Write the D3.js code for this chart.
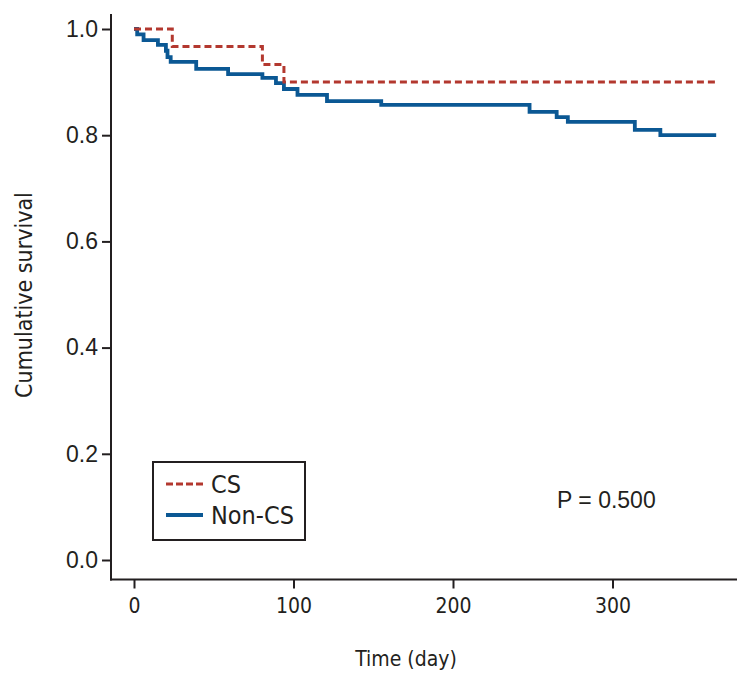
<!DOCTYPE html>
<html><head><meta charset="utf-8">
<script src="https://cdn.jsdelivr.net/npm/d3@7"></script>
<style>
html,body{margin:0;padding:0;background:#fff;}
svg{display:block;}
</style></head>
<body>
<svg id="chart" width="750" height="682"></svg>
<script>
// ---- data ----
const csTimes  = [0, 24, 80.5, 94, 365];
const csSurv   = [1.0, 0.967, 0.933, 0.900, 0.900];
const nonTimes = [0, 2, 6, 15, 20, 21, 23, 39, 59, 80.5, 89, 94, 102.5, 121, 155, 248, 265, 272, 314, 330, 365];
const nonSurv  = [1.0, 0.990, 0.979, 0.970, 0.959, 0.947, 0.938, 0.925, 0.915, 0.908, 0.898, 0.887, 0.876, 0.864, 0.857, 0.844, 0.834, 0.825, 0.810, 0.800, 0.800];
const xTicks = [0, 100, 200, 300];
const yTicks = [0, 0.2, 0.4, 0.6, 0.8, 1.0];
const seriesNames = ["CS", "Non-CS"];
const pText = "P = 0.500";

const svg = d3.select("#chart");
const x = d3.scaleLinear().domain([0, 300]).range([134, 612.5]);
const y = d3.scaleLinear().domain([0, 1]).range([560, 29]);
const axisColor = "#231f20";
const red = "#b3382f", blue = "#0b5894";
const narrow = "'Liberation Sans Narrow', 'DejaVu Sans Condensed', sans-serif";
const wide = "'Liberation Sans', Arial, sans-serif";

// axes lines
const axLeft = 111, axBottom = 579.5, axRight = 737, axTop = 14;
svg.append("line").attr("x1", axLeft).attr("x2", axLeft).attr("y1", axTop).attr("y2", axBottom + 1)
  .attr("stroke", axisColor).attr("stroke-width", 2);
svg.append("line").attr("x1", axLeft - 1).attr("x2", axRight).attr("y1", axBottom).attr("y2", axBottom)
  .attr("stroke", axisColor).attr("stroke-width", 2);

// y axis
const yAxis = d3.axisLeft(y).tickValues(yTicks).tickFormat(d3.format(".1f")).tickSize(9).tickPadding(4);
const gy = svg.append("g").attr("transform", `translate(${axLeft},0)`).call(yAxis);
gy.select(".domain").remove();
gy.selectAll(".tick line").attr("stroke", axisColor).attr("stroke-width", 2);
gy.selectAll(".tick text").attr("font-family", wide).attr("font-size", 23).attr("fill", "#231f20");

// x axis
const xAxis = d3.axisBottom(x).tickValues(xTicks).tickFormat(d3.format("d")).tickSize(9).tickPadding(10);
const gx = svg.append("g").attr("transform", `translate(0,${axBottom})`).call(xAxis);
gx.select(".domain").remove();
gx.selectAll(".tick line").attr("stroke", axisColor).attr("stroke-width", 2);
gx.selectAll(".tick text").attr("font-family", narrow).attr("font-size", 21).attr("fill", "#231f20");

// titles
svg.append("text").attr("x", 406).attr("y", 666).attr("text-anchor", "middle")
  .attr("font-family", narrow).attr("font-size", 21).attr("fill", "#231f20").text("Time (day)");
svg.append("text").attr("transform", "translate(32,295) rotate(-90)").attr("text-anchor", "middle")
  .attr("font-family", narrow).attr("font-size", 23).attr("fill", "#231f20").text("Cumulative survival");

// curves
const line = d3.line().x(d => x(d[0])).y(d => y(d[1])).curve(d3.curveStepAfter);
const nonData = nonTimes.map((t, i) => [t, nonSurv[i]]);
const csData = csTimes.map((t, i) => [t, csSurv[i]]);
svg.append("path").attr("d", line(nonData)).attr("fill", "none").attr("stroke", blue).attr("stroke-width", 3.8);
svg.append("path").attr("d", line(csData)).attr("fill", "none").attr("stroke", red).attr("stroke-width", 3)
  .attr("stroke-dasharray", "7,4");

// legend
const lg = svg.append("g");
lg.append("rect").attr("x", 153).attr("y", 462).attr("width", 152).attr("height", 78)
  .attr("fill", "#fff").attr("stroke", axisColor).attr("stroke-width", 2);
const legY = [484, 515];
lg.append("line").attr("x1", 166).attr("x2", 203).attr("y1", legY[0]).attr("y2", legY[0])
  .attr("stroke", red).attr("stroke-width", 3).attr("stroke-dasharray", "7,3");
lg.append("line").attr("x1", 166).attr("x2", 203).attr("y1", legY[1]).attr("y2", legY[1])
  .attr("stroke", blue).attr("stroke-width", 3.8);
seriesNames.forEach((n, i) => {
  lg.append("text").attr("x", 211).attr("y", legY[i] + 9).attr("font-family", narrow).attr("font-size", 25)
    .attr("fill", "#231f20").text(n);
});

// p-value
svg.append("text").attr("x", 557).attr("y", 508).attr("font-family", wide).attr("font-size", 23)
  .attr("fill", "#231f20").text(pText);
</script>
</body></html>
